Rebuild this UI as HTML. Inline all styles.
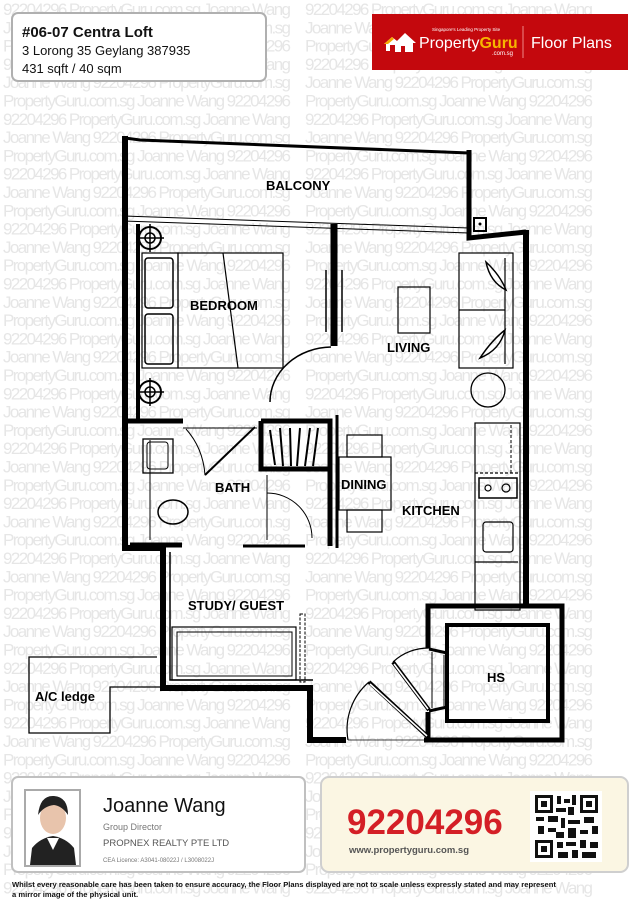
<!DOCTYPE html>
<html><head><meta charset="utf-8"><style>
html,body{margin:0;padding:0;background:#fff}
svg{display:block}
text{font-family:"Liberation Sans",Arial,sans-serif}
</style></head><body>
<svg width="640" height="905" viewBox="0 0 640 905" xmlns="http://www.w3.org/2000/svg">
<rect width="640" height="905" fill="#fff"/>
<g font-size="17" fill="#e6e6e6">
<text y="15"><tspan x="3" textLength="288">92204296 PropertyGuru.com.sg Joanne Wang</tspan><tspan x="305" textLength="288">92204296 PropertyGuru.com.sg Joanne Wang</tspan></text>
<text y="33.3"><tspan x="3" textLength="288">Joanne Wang 92204296 PropertyGuru.com.sg</tspan><tspan x="305" textLength="288">Joanne Wang 92204296 PropertyGuru.com.sg</tspan></text>
<text y="51.6"><tspan x="3" textLength="288">PropertyGuru.com.sg Joanne Wang 92204296</tspan><tspan x="305" textLength="288">PropertyGuru.com.sg Joanne Wang 92204296</tspan></text>
<text y="69.9"><tspan x="3" textLength="288">92204296 PropertyGuru.com.sg Joanne Wang</tspan><tspan x="305" textLength="288">92204296 PropertyGuru.com.sg Joanne Wang</tspan></text>
<text y="88.2"><tspan x="3" textLength="288">Joanne Wang 92204296 PropertyGuru.com.sg</tspan><tspan x="305" textLength="288">Joanne Wang 92204296 PropertyGuru.com.sg</tspan></text>
<text y="106.5"><tspan x="3" textLength="288">PropertyGuru.com.sg Joanne Wang 92204296</tspan><tspan x="305" textLength="288">PropertyGuru.com.sg Joanne Wang 92204296</tspan></text>
<text y="124.8"><tspan x="3" textLength="288">92204296 PropertyGuru.com.sg Joanne Wang</tspan><tspan x="305" textLength="288">92204296 PropertyGuru.com.sg Joanne Wang</tspan></text>
<text y="143.1"><tspan x="3" textLength="288">Joanne Wang 92204296 PropertyGuru.com.sg</tspan><tspan x="305" textLength="288">Joanne Wang 92204296 PropertyGuru.com.sg</tspan></text>
<text y="161.4"><tspan x="3" textLength="288">PropertyGuru.com.sg Joanne Wang 92204296</tspan><tspan x="305" textLength="288">PropertyGuru.com.sg Joanne Wang 92204296</tspan></text>
<text y="179.7"><tspan x="3" textLength="288">92204296 PropertyGuru.com.sg Joanne Wang</tspan><tspan x="305" textLength="288">92204296 PropertyGuru.com.sg Joanne Wang</tspan></text>
<text y="198"><tspan x="3" textLength="288">Joanne Wang 92204296 PropertyGuru.com.sg</tspan><tspan x="305" textLength="288">Joanne Wang 92204296 PropertyGuru.com.sg</tspan></text>
<text y="216.3"><tspan x="3" textLength="288">PropertyGuru.com.sg Joanne Wang 92204296</tspan><tspan x="305" textLength="288">PropertyGuru.com.sg Joanne Wang 92204296</tspan></text>
<text y="234.6"><tspan x="3" textLength="288">92204296 PropertyGuru.com.sg Joanne Wang</tspan><tspan x="305" textLength="288">92204296 PropertyGuru.com.sg Joanne Wang</tspan></text>
<text y="252.9"><tspan x="3" textLength="288">Joanne Wang 92204296 PropertyGuru.com.sg</tspan><tspan x="305" textLength="288">Joanne Wang 92204296 PropertyGuru.com.sg</tspan></text>
<text y="271.2"><tspan x="3" textLength="288">PropertyGuru.com.sg Joanne Wang 92204296</tspan><tspan x="305" textLength="288">PropertyGuru.com.sg Joanne Wang 92204296</tspan></text>
<text y="289.5"><tspan x="3" textLength="288">92204296 PropertyGuru.com.sg Joanne Wang</tspan><tspan x="305" textLength="288">92204296 PropertyGuru.com.sg Joanne Wang</tspan></text>
<text y="307.8"><tspan x="3" textLength="288">Joanne Wang 92204296 PropertyGuru.com.sg</tspan><tspan x="305" textLength="288">Joanne Wang 92204296 PropertyGuru.com.sg</tspan></text>
<text y="326.1"><tspan x="3" textLength="288">PropertyGuru.com.sg Joanne Wang 92204296</tspan><tspan x="305" textLength="288">PropertyGuru.com.sg Joanne Wang 92204296</tspan></text>
<text y="344.4"><tspan x="3" textLength="288">92204296 PropertyGuru.com.sg Joanne Wang</tspan><tspan x="305" textLength="288">92204296 PropertyGuru.com.sg Joanne Wang</tspan></text>
<text y="362.7"><tspan x="3" textLength="288">Joanne Wang 92204296 PropertyGuru.com.sg</tspan><tspan x="305" textLength="288">Joanne Wang 92204296 PropertyGuru.com.sg</tspan></text>
<text y="381"><tspan x="3" textLength="288">PropertyGuru.com.sg Joanne Wang 92204296</tspan><tspan x="305" textLength="288">PropertyGuru.com.sg Joanne Wang 92204296</tspan></text>
<text y="399.3"><tspan x="3" textLength="288">92204296 PropertyGuru.com.sg Joanne Wang</tspan><tspan x="305" textLength="288">92204296 PropertyGuru.com.sg Joanne Wang</tspan></text>
<text y="417.6"><tspan x="3" textLength="288">Joanne Wang 92204296 PropertyGuru.com.sg</tspan><tspan x="305" textLength="288">Joanne Wang 92204296 PropertyGuru.com.sg</tspan></text>
<text y="435.9"><tspan x="3" textLength="288">PropertyGuru.com.sg Joanne Wang 92204296</tspan><tspan x="305" textLength="288">PropertyGuru.com.sg Joanne Wang 92204296</tspan></text>
<text y="454.2"><tspan x="3" textLength="288">92204296 PropertyGuru.com.sg Joanne Wang</tspan><tspan x="305" textLength="288">92204296 PropertyGuru.com.sg Joanne Wang</tspan></text>
<text y="472.5"><tspan x="3" textLength="288">Joanne Wang 92204296 PropertyGuru.com.sg</tspan><tspan x="305" textLength="288">Joanne Wang 92204296 PropertyGuru.com.sg</tspan></text>
<text y="490.8"><tspan x="3" textLength="288">PropertyGuru.com.sg Joanne Wang 92204296</tspan><tspan x="305" textLength="288">PropertyGuru.com.sg Joanne Wang 92204296</tspan></text>
<text y="509.1"><tspan x="3" textLength="288">92204296 PropertyGuru.com.sg Joanne Wang</tspan><tspan x="305" textLength="288">92204296 PropertyGuru.com.sg Joanne Wang</tspan></text>
<text y="527.4"><tspan x="3" textLength="288">Joanne Wang 92204296 PropertyGuru.com.sg</tspan><tspan x="305" textLength="288">Joanne Wang 92204296 PropertyGuru.com.sg</tspan></text>
<text y="545.7"><tspan x="3" textLength="288">PropertyGuru.com.sg Joanne Wang 92204296</tspan><tspan x="305" textLength="288">PropertyGuru.com.sg Joanne Wang 92204296</tspan></text>
<text y="564"><tspan x="3" textLength="288">92204296 PropertyGuru.com.sg Joanne Wang</tspan><tspan x="305" textLength="288">92204296 PropertyGuru.com.sg Joanne Wang</tspan></text>
<text y="582.3"><tspan x="3" textLength="288">Joanne Wang 92204296 PropertyGuru.com.sg</tspan><tspan x="305" textLength="288">Joanne Wang 92204296 PropertyGuru.com.sg</tspan></text>
<text y="600.6"><tspan x="3" textLength="288">PropertyGuru.com.sg Joanne Wang 92204296</tspan><tspan x="305" textLength="288">PropertyGuru.com.sg Joanne Wang 92204296</tspan></text>
<text y="618.9"><tspan x="3" textLength="288">92204296 PropertyGuru.com.sg Joanne Wang</tspan><tspan x="305" textLength="288">92204296 PropertyGuru.com.sg Joanne Wang</tspan></text>
<text y="637.2"><tspan x="3" textLength="288">Joanne Wang 92204296 PropertyGuru.com.sg</tspan><tspan x="305" textLength="288">Joanne Wang 92204296 PropertyGuru.com.sg</tspan></text>
<text y="655.5"><tspan x="3" textLength="288">PropertyGuru.com.sg Joanne Wang 92204296</tspan><tspan x="305" textLength="288">PropertyGuru.com.sg Joanne Wang 92204296</tspan></text>
<text y="673.8"><tspan x="3" textLength="288">92204296 PropertyGuru.com.sg Joanne Wang</tspan><tspan x="305" textLength="288">92204296 PropertyGuru.com.sg Joanne Wang</tspan></text>
<text y="692.1"><tspan x="3" textLength="288">Joanne Wang 92204296 PropertyGuru.com.sg</tspan><tspan x="305" textLength="288">Joanne Wang 92204296 PropertyGuru.com.sg</tspan></text>
<text y="710.4"><tspan x="3" textLength="288">PropertyGuru.com.sg Joanne Wang 92204296</tspan><tspan x="305" textLength="288">PropertyGuru.com.sg Joanne Wang 92204296</tspan></text>
<text y="728.7"><tspan x="3" textLength="288">92204296 PropertyGuru.com.sg Joanne Wang</tspan><tspan x="305" textLength="288">92204296 PropertyGuru.com.sg Joanne Wang</tspan></text>
<text y="747"><tspan x="3" textLength="288">Joanne Wang 92204296 PropertyGuru.com.sg</tspan><tspan x="305" textLength="288">Joanne Wang 92204296 PropertyGuru.com.sg</tspan></text>
<text y="765.3"><tspan x="3" textLength="288">PropertyGuru.com.sg Joanne Wang 92204296</tspan><tspan x="305" textLength="288">PropertyGuru.com.sg Joanne Wang 92204296</tspan></text>
<text y="783.6"><tspan x="3" textLength="288">92204296 PropertyGuru.com.sg Joanne Wang</tspan><tspan x="305" textLength="288">92204296 PropertyGuru.com.sg Joanne Wang</tspan></text>
<text y="801.9"><tspan x="3" textLength="288">Joanne Wang 92204296 PropertyGuru.com.sg</tspan><tspan x="305" textLength="288">Joanne Wang 92204296 PropertyGuru.com.sg</tspan></text>
<text y="820.2"><tspan x="3" textLength="288">PropertyGuru.com.sg Joanne Wang 92204296</tspan><tspan x="305" textLength="288">PropertyGuru.com.sg Joanne Wang 92204296</tspan></text>
<text y="838.5"><tspan x="3" textLength="288">92204296 PropertyGuru.com.sg Joanne Wang</tspan><tspan x="305" textLength="288">92204296 PropertyGuru.com.sg Joanne Wang</tspan></text>
<text y="856.8"><tspan x="3" textLength="288">Joanne Wang 92204296 PropertyGuru.com.sg</tspan><tspan x="305" textLength="288">Joanne Wang 92204296 PropertyGuru.com.sg</tspan></text>
<text y="875.1"><tspan x="3" textLength="288">PropertyGuru.com.sg Joanne Wang 92204296</tspan><tspan x="305" textLength="288">PropertyGuru.com.sg Joanne Wang 92204296</tspan></text>
<text y="893.4"><tspan x="3" textLength="288">92204296 PropertyGuru.com.sg Joanne Wang</tspan><tspan x="305" textLength="288">92204296 PropertyGuru.com.sg Joanne Wang</tspan></text>
</g>

<!-- Header box -->
<rect x="12" y="13" width="254" height="68" rx="6" fill="#fff" stroke="#b0b0b0" stroke-width="2"/>
<text x="22" y="37" font-size="15" font-weight="bold" fill="#111">#06-07  Centra Loft</text>
<text x="22" y="55" font-size="13" fill="#111">3 Lorong 35 Geylang 387935</text>
<text x="22" y="73" font-size="13" fill="#111">431 sqft / 40 sqm</text>

<!-- Banner -->
<rect x="372" y="14" width="256" height="56" fill="#c4080d"/>
<path d="M384 44 L392 37 L397 41 L405 33 L416 43 L413 43 L413 52 L405 52 L405 46 L401 46 L401 52 L395 52 L395 45 L390 45 L390 51 L386 51 L386 44 Z" fill="#fff"/>
<path d="M384 44 L392 37 L394 39 L388 44 Z" fill="#f5a800"/>
<text x="432" y="31" font-size="4.5" fill="#fff">Singapore's Leading Property Site</text>
<text x="419" y="48" font-size="16" fill="#fff">Property<tspan fill="#f7b500" font-weight="bold">Guru</tspan></text>
<text x="492" y="55" font-size="6" fill="#fff">.com.sg</text>
<line x1="523" y1="26" x2="523" y2="58" stroke="#e88" stroke-width="1"/>
<text x="531" y="48" font-size="16" fill="#fff">Floor Plans</text>

<!-- PLAN -->
<g fill="none" stroke="#000">
<path d="M125 138 L140 140 L469 153" stroke-width="3"/>
<path d="M125 216 L469 228 M125 221 L469 233" stroke-width="1"/>
<path d="M469 150 L469 238 L526 232" stroke-width="5"/>
<rect x="474" y="218" width="12" height="13" stroke-width="2"/>
<path d="M125 136 L125 548 L163 548 L163 688 L310 688 L310 740 L346 740" stroke-width="6"/>
<path d="M138 224 L138 420" stroke-width="4"/>
<path d="M526 230 L526 607" stroke-width="6"/>
<path d="M424 740 L562 740 L562 606 L428 606 L428 648 M428 712 L428 740" stroke-width="5"/>
<rect x="447" y="625" width="101" height="96" stroke-width="4"/>
<path d="M429 649 L447 653 M429 711 L447 707" stroke-width="3"/>
<path d="M432 652 L432 708 M444 655 L444 706" stroke-width="1"/>
<path d="M334 224 L334 346" stroke-width="7"/>
<path d="M326 270 L326 332 M342 270 L342 332" stroke-width="1.5"/>
<path d="M331 347 A62 55 0 0 0 270 402" stroke-width="1.5"/>
<circle cx="150" cy="238" r="11" stroke-width="2"/><circle cx="150" cy="238" r="5" stroke-width="1.5"/>
<path d="M136 238 L164 238 M150 224 L150 252" stroke-width="1.5"/>
<circle cx="150" cy="392" r="11" stroke-width="2"/><circle cx="150" cy="392" r="5" stroke-width="1.5"/>
<path d="M136 392 L164 392 M150 378 L150 406" stroke-width="1.5"/>
<rect x="142" y="253" width="36" height="115" stroke-width="1.2"/>
<rect x="145" y="258" width="28" height="50" rx="3" stroke-width="1.5"/>
<rect x="145" y="314" width="28" height="50" rx="3" stroke-width="1.5"/>
<rect x="178" y="253" width="105" height="115" stroke-width="1.2"/>
<path d="M223 253 L238 368" stroke-width="1.2"/>
<rect x="398" y="287" width="32" height="46" stroke-width="1.2"/>
<rect x="459" y="253" width="54" height="115" stroke-width="1.2"/>
<path d="M505 258 L505 364 M459 310 L505 310" stroke-width="1.2"/>
<path d="M486 262 Q500 275 506 290 Q490 282 486 262 Z" stroke-width="1.5"/>
<path d="M480 358 Q492 340 505 330 Q500 350 480 358 Z" stroke-width="1.5"/>
<circle cx="488" cy="390" r="17" stroke-width="1.3"/>
<!-- bath block -->
<path d="M127 421 L183 421" stroke-width="5"/>
<path d="M183 428 L257 428" stroke-width="1"/>
<path d="M261 421 L330 421 L330 546" stroke-width="5"/>
<path d="M261 421 L261 469 L330 469" stroke-width="5"/>
<path d="M337 415 L337 548" stroke-width="3"/>
<path d="M205 475 L255 427" stroke-width="2"/>
<path d="M186 429 Q203 448 205 475" stroke-width="1"/>
<path d="M150 440 L150 540" stroke-width="1"/>
<path d="M130 545 L182 545" stroke-width="5"/>
<path d="M243 546 L305 546" stroke-width="3"/>
<path d="M267 475 L267 540" stroke-width="1"/>
<path d="M267 493 A45 45 0 0 1 312 538" stroke-width="1"/>
<rect x="143" y="439" width="30" height="34" stroke-width="1.3"/>
<rect x="147" y="442" width="21" height="27" rx="3" stroke-width="1"/>
<ellipse cx="173" cy="512" rx="15" ry="12" stroke-width="1.5"/>
<path d="M270 430 L275 465 M280 428 L283 466 M290 428 L291 466 M300 428 L297 466 M310 428 L305 466 M318 428 L313 466" stroke-width="2"/>
<path d="M170 552 L170 680 L313 680" stroke-width="1.5"/>
<rect x="172" y="627" width="124" height="53" stroke-width="1.2"/>
<path d="M177 632 L292 632 L292 676 L177 676 Z" stroke-width="1"/>
<rect x="300" y="614" width="5" height="68" stroke-width="1" stroke-dasharray="3,1.5"/>
<path d="M157 657 L29 657 L29 733 L110 733 L110 687 L160 687" stroke-width="1.3"/>
<rect x="339" y="457" width="52" height="53" stroke-width="1.2"/>
<rect x="347" y="435" width="35" height="22" stroke-width="1.2"/>
<rect x="347" y="510" width="35" height="22" stroke-width="1.2"/>
<rect x="475" y="423" width="45" height="187" stroke-width="1.2"/>
<path d="M475 473 L518 473" stroke-width="1.2" stroke-dasharray="3,2"/>
<path d="M511 425 L511 473" stroke-width="1" stroke-dasharray="3,2"/>
<rect x="479" y="478" width="38" height="20" stroke-width="1.5"/>
<circle cx="488" cy="488" r="3" stroke-width="1.2"/><circle cx="506" cy="488" r="4" stroke-width="1.2"/>
<rect x="483" y="522" width="30" height="30" rx="3" stroke-width="1.2"/>
<path d="M475 562 L518 562" stroke-width="1.2"/>
<!-- entrance doors -->
<path d="M348 740 L424 740" stroke-width="0.8"/>
<path d="M348 740 A62 62 0 0 1 369 682" stroke-width="1.2"/>
<path d="M369 682 L428 737" stroke-width="4"/>
<path d="M370 684 L427 736" stroke="#fff" stroke-width="1.6"/>
<path d="M393 662 A52 52 0 0 1 430 648" stroke-width="1.2"/>
<path d="M393 662 L429 710" stroke-width="4"/>
<path d="M394 664 L428 709" stroke="#fff" stroke-width="1.6"/>
</g>
<circle cx="480" cy="224" r="1.5" fill="#000"/>
<g font-weight="bold" font-size="13" fill="#000">
<text x="266" y="190">BALCONY</text>
<text x="190" y="310">BEDROOM</text>
<text x="387" y="352">LIVING</text>
<text x="215" y="492">BATH</text>
<text x="341" y="489">DINING</text>
<text x="402" y="515">KITCHEN</text>
<text x="188" y="610">STUDY/ GUEST</text>
<text x="35" y="701">A/C ledge</text>
<text x="487" y="682">HS</text>
</g>

<rect x="12" y="777" width="293" height="95" rx="6" fill="#fff" stroke="#c0c0c0" stroke-width="2"/>
<rect x="25" y="790" width="55" height="76" fill="#fff" stroke="#aaa" stroke-width="2"/>
<ellipse cx="53" cy="818" rx="13" ry="16" fill="#e8c4ac"/>
<path d="M38 815 Q40 795 54 796 Q68 797 68 815 Q62 806 54 805 Q44 806 38 815 Z" fill="#222"/>
<path d="M30 865 L32 848 Q40 838 53 836 Q66 838 74 848 L76 865 Z" fill="#222"/>
<path d="M47 838 L53 850 L59 838 Z" fill="#fff"/>
<text x="103" y="812" font-size="20" fill="#111">Joanne Wang</text>
<text x="103" y="830" font-size="9" fill="#777">Group Director</text>
<text x="103" y="846" font-size="9.5" fill="#555">PROPNEX REALTY PTE LTD</text>
<text x="103" y="862" font-size="6" fill="#777">CEA Licence: A3041-08022J / L3008022J</text>

<rect x="321" y="777" width="307" height="95" rx="8" fill="#fbf6e3" stroke="#cfcfcf" stroke-width="2"/>
<text x="347" y="834" font-size="35" font-weight="bold" fill="#d41f26">92204296</text>
<text x="349" y="853" font-size="9.5" font-weight="bold" fill="#555">www.propertyguru.com.sg</text>
<rect x="530" y="791" width="72" height="71" fill="#fff"/>
<g fill="#111">
<rect x="535" y="795" width="18" height="18"/><rect x="538" y="798" width="12" height="12" fill="#fff"/><rect x="541" y="801" width="6" height="6"/>
<rect x="580" y="795" width="18" height="18"/><rect x="583" y="798" width="12" height="12" fill="#fff"/><rect x="586" y="801" width="6" height="6"/>
<rect x="535" y="840" width="18" height="18"/><rect x="538" y="843" width="12" height="12" fill="#fff"/><rect x="541" y="846" width="6" height="6"/>
<rect x="557" y="796" width="4" height="8"/><rect x="564" y="799" width="6" height="4"/><rect x="572" y="795" width="4" height="10"/>
<rect x="556" y="808" width="10" height="4"/><rect x="568" y="807" width="6" height="8"/>
<rect x="536" y="817" width="8" height="4"/><rect x="548" y="816" width="10" height="6"/><rect x="561" y="818" width="4" height="10"/>
<rect x="568" y="820" width="12" height="4"/><rect x="584" y="817" width="10" height="6"/><rect x="592" y="826" width="6" height="8"/>
<rect x="538" y="826" width="6" height="8"/><rect x="548" y="828" width="8" height="4"/><rect x="556" y="832" width="8" height="6"/>
<rect x="568" y="828" width="8" height="10"/><rect x="580" y="830" width="8" height="4"/><rect x="557" y="842" width="6" height="6"/>
<rect x="566" y="842" width="10" height="4"/><rect x="580" y="840" width="6" height="8"/><rect x="590" y="842" width="8" height="6"/>
<rect x="558" y="852" width="10" height="6"/><rect x="572" y="850" width="6" height="8"/><rect x="582" y="852" width="14" height="6"/>
</g>

<text x="12" y="887" font-size="7.6" font-weight="bold" fill="#111">Whilst every reasonable care has been taken to ensure accuracy, the Floor Plans displayed are not to scale unless expressly stated and may represent</text>
<text x="12" y="897" font-size="7.6" font-weight="bold" fill="#111">a mirror image of the physical unit.</text>
</svg>
</body></html>
